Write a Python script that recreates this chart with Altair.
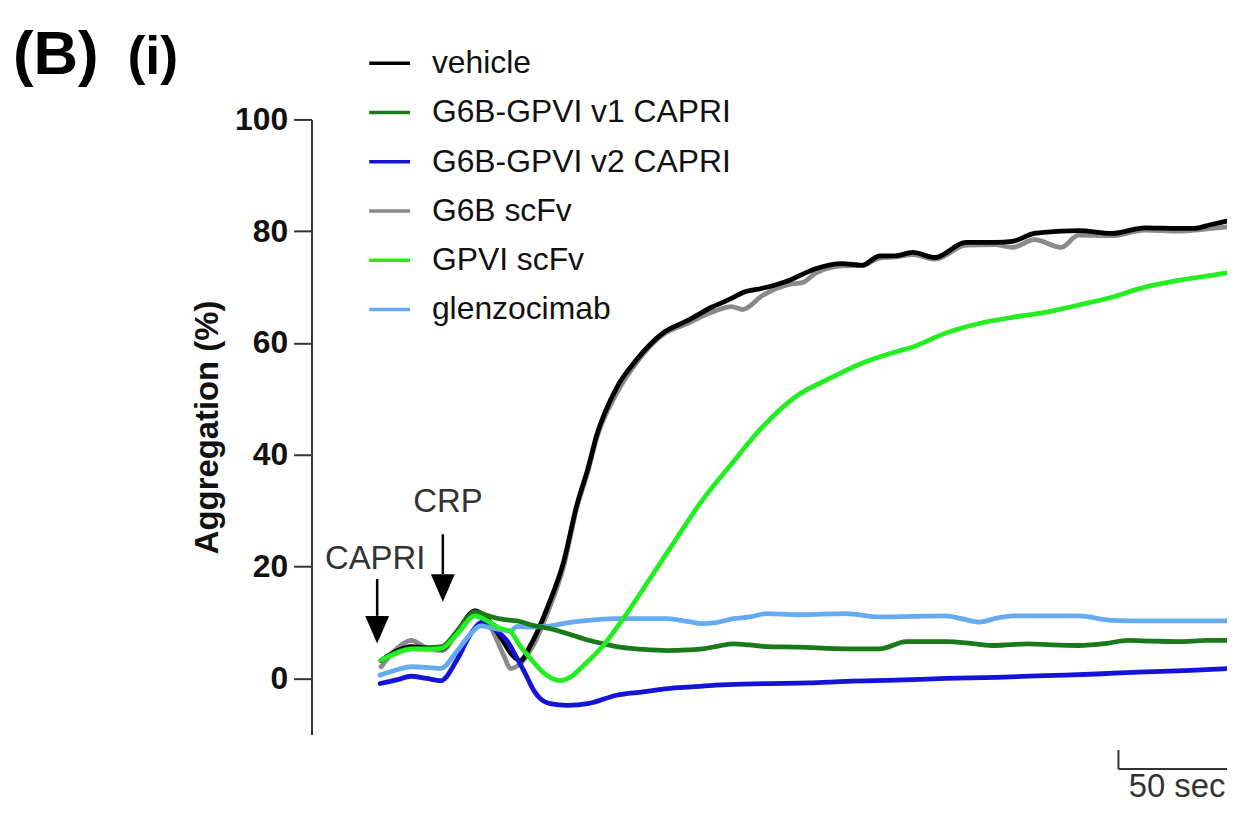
import altair as alt
import pandas as pd

FONT = "Liberation Sans"

series_names = ["vehicle", "G6B-GPVI v1 CAPRI", "G6B-GPVI v2 CAPRI", "G6B scFv", "GPVI scFv", "glenzocimab"]
series_colors = ["#000000", "#1a7a1a", "#1414d8", "#8a8a8a", "#22ee22", "#66aaf0"]
draw_order = ["G6B scFv", "vehicle", "G6B-GPVI v2 CAPRI", "glenzocimab", "G6B-GPVI v1 CAPRI", "GPVI scFv"]

# time (s) / aggregation (%)
t_vehicle = [31.5, 39, 45, 52, 59, 66, 74, 80, 86, 91, 94.5, 99, 107, 114, 120, 125, 129, 138, 147, 159,
             170, 181, 190, 195, 204, 216, 228, 240, 249, 257, 264, 272, 282, 296, 309, 317, 327, 339, 347, 362,
             377, 392, 399, 407, 415]
v_vehicle = [3.2, 5.0, 5.7, 5.5, 5.3, 8.5, 12.1, 10.5, 7.1, 4.1, 3.2, 5.9, 13.0, 20.8, 31.0, 37.5, 43.5, 52.0, 57.0, 61.8,
             64.0, 66.4, 68.0, 69.0, 69.8, 71.2, 73.3, 74.2, 73.9, 75.6, 75.6, 76.2, 75.3, 78.0, 78.0, 78.2, 79.6, 80.0, 80.1, 79.6,
             80.6, 80.5, 80.5, 81.2, 81.9]

t_g6b = [31.5, 39, 45, 52, 59, 66, 74, 80, 87, 90, 94, 99, 107, 114, 120, 125, 129, 138, 147, 159,
         170, 181, 190, 195, 204, 216, 222, 228, 240, 249, 257, 264, 272, 282, 296, 309, 317, 327, 339, 347,
         362, 377, 392, 399, 407, 415]
v_g6b = [2.1, 5.5, 6.8, 5.5, 5.0, 8.2, 12.1, 10.0, 4.1, 1.8, 2.5, 5.0, 12.0, 20.0, 30.5, 37.0, 43.0, 51.0, 56.5, 61.5,
         63.5, 65.5, 66.5, 66.0, 68.5, 70.5, 70.8, 72.5, 73.8, 73.9, 75.2, 75.4, 75.8, 75.0, 77.5, 77.6, 77.1, 78.5, 77.1, 79.3,
         79.2, 80.2, 80.0, 80.2, 80.5, 80.8]

t_gpvi = [31.5, 39, 45, 52, 59, 66, 74, 80, 85, 90, 94, 99, 105, 112.5, 118, 123, 132, 141, 153, 165,
          177, 189, 204, 219, 234, 249, 264, 272, 287, 302, 317, 332, 347, 362, 377, 392, 407, 415]
v_gpvi = [3.3, 4.6, 5.3, 5.2, 5.4, 8.0, 11.2, 10.2, 9.0, 8.4, 6.0, 3.6, 1.0, -0.4, 0.5, 2.3, 5.9, 10.7, 17.8, 25.0,
          32.0, 37.9, 45.0, 50.4, 53.6, 56.4, 58.4, 59.3, 61.8, 63.5, 64.6, 65.5, 66.8, 68.2, 70.0, 71.2, 72.1, 72.6]

t_v1 = [31.5, 39, 45, 52, 59, 66, 74, 80, 86, 93, 100, 108, 116, 123, 131, 138, 150, 161, 170, 177,
        184, 191, 198, 206, 220, 242, 257, 269, 280, 287, 300, 309, 324, 335, 347, 360, 369, 380, 392, 405, 415]
v_v1 = [3.2, 4.8, 5.3, 5.5, 5.7, 8.5, 11.9, 11.2, 10.6, 10.3, 9.5, 8.9, 8.0, 7.1, 6.3, 5.7, 5.2, 5.0, 5.1, 5.3,
        5.8, 6.2, 6.0, 5.7, 5.6, 5.3, 5.3, 6.6, 6.6, 6.6, 6.2, 5.9, 6.2, 6.0, 5.9, 6.3, 6.8, 6.7, 6.6, 6.8, 6.8]

t_v2 = [31, 39, 45, 52, 58.5, 66, 72, 77.4, 82, 88.7, 93, 96.3, 100.8, 103.5, 108, 115.7, 125, 138, 150, 161,
        172, 183, 195, 206, 225, 242, 264, 287, 310, 332, 355, 377, 400, 415]
v_v2 = [-0.9, -0.2, 0.4, 0.0, -0.4, 3.5, 8.0, 10.1, 9.0, 6.6, 3.6, 1.2, -2.3, -3.6, -4.5, -4.8, -4.5, -3.0, -2.4, -1.8,
        -1.5, -1.2, -1.0, -0.9, -0.8, -0.5, -0.3, 0.0, 0.2, 0.5, 0.8, 1.2, 1.5, 1.8]

t_glen = [31, 39, 45, 52, 58.5, 66, 72, 76.5, 82, 90, 93, 100, 108, 115, 123, 132, 138, 150, 160.7, 170,
          177, 183, 191, 198, 206, 220, 242, 257, 272, 287, 295, 302, 310, 317, 332, 347, 362, 377, 392, 415]
v_glen = [0.6, 1.6, 2.1, 2.0, 1.8, 5.0, 8.0, 9.4, 9.0, 8.5, 9.3, 9.2, 9.4, 9.9, 10.3, 10.6, 10.7, 10.7, 10.7, 10.2,
          9.8, 10.0, 10.7, 11.0, 11.6, 11.4, 11.6, 11.0, 11.1, 11.2, 10.6, 10.1, 10.8, 11.2, 11.2, 11.2, 10.4, 10.3, 10.3, 10.3]

# annotations (data coordinates)
ann_labels = ["CAPRI", "CRP"]
ann_label_t = [28.8, 61.7]
ann_label_y = [19.6, 29.7]
arrow_t = [29.7, 59.4]
arrow_top = [17.8, 25.8]
arrow_bottom = [11.2, 18.7]
arrow_head = [8.7, 16.2]

scalebar_label = ["50 sec"]
scalebar_t = [365]
scalebar_t2 = [415]
scalebar_y = [-16.2]
scalebar_ytop = [-12.8]
scalebar_label_t = [391.5]
scalebar_label_y = [-21.2]

panel_labels = ["(B)", "(i)"]

series_data = {
    "vehicle": (t_vehicle, v_vehicle),
    "G6B-GPVI v1 CAPRI": (t_v1, v_v1),
    "G6B-GPVI v2 CAPRI": (t_v2, v_v2),
    "G6B scFv": (t_g6b, v_g6b),
    "GPVI scFv": (t_gpvi, v_gpvi),
    "glenzocimab": (t_glen, v_glen),
}

rows = []
for name in series_names:
    ts, vs = series_data[name]
    for t, v in zip(ts, vs):
        rows.append({"series": name, "time": t, "agg": v})
df = pd.DataFrame(rows)

X_DOMAIN = [0, 414.1]
Y_DOMAIN = [-10, 100]

xscale = alt.Scale(domain=X_DOMAIN, nice=False, zero=False)
yscale = alt.Scale(domain=Y_DOMAIN, nice=False, zero=False)
yaxis = alt.Axis(values=[0, 20, 40, 60, 80, 100], title="Aggregation (%)", titleFont=FONT, titleFontSize=33,
                 titleFontWeight="bold", titleColor="#111", titlePadding=10, labelFont=FONT, labelFontSize=32,
                 labelFontWeight="bold", labelColor="#111", labelPadding=6, tickSize=18, tickWidth=2,
                 tickColor="#333", domainWidth=2, domainColor="#333", grid=False, labelFlush=False,
                 labelOverlap=False)


def X(f):
    return alt.X(f"{f}:Q", scale=xscale, axis=None)


def Y(f):
    return alt.Y(f"{f}:Q", scale=yscale, axis=yaxis)


color = alt.Color("series:N", scale=alt.Scale(domain=series_names, range=series_colors),
                  legend=alt.Legend(title=None, orient="none", legendX=56, legendY=-79, symbolType="stroke",
                                    symbolSize=1681, symbolStrokeWidth=3.5, labelFont=FONT, labelFontSize=32,
                                    labelColor="#111", labelOffset=20, rowPadding=10.5, padding=0, labelLimit=600,
                                    direction="vertical"))

base = alt.Chart(df)
line_layers = [
    base.transform_filter(alt.datum.series == name)
    .mark_line(strokeWidth=4.8, strokeJoin="round", strokeCap="round", clip=True, interpolate="monotone")
    .encode(x=X("time"), y=Y("agg"), color=color, order=alt.Order("time:Q"))
    for name in draw_order
]

ann_df = pd.DataFrame({"label": ann_labels, "lt": ann_label_t, "ly": ann_label_y,
                       "at": arrow_t, "atop": arrow_top, "abot": arrow_bottom, "ahead": arrow_head})
ann_base = alt.Chart(ann_df)
ann_text = ann_base.mark_text(font=FONT, fontSize=33, color="#333", align="center", baseline="alphabetic").encode(
    x=X("lt"), y=Y("ly"), text="label:N")
arrow_shaft = ann_base.mark_rule(color="#000", strokeWidth=2.5).encode(
    x=X("at"), y=Y("atop"), y2=alt.Y2("abot:Q"))
arrow_heads = ann_base.mark_point(shape="M-1,-1.15L1,-1.15L0,1.15Z", size=576, filled=True, color="#000",
                                  opacity=1, strokeWidth=0).encode(x=X("at"), y=Y("ahead"))

sb_df = pd.DataFrame({"label": scalebar_label, "t": scalebar_t, "t2": scalebar_t2, "y": scalebar_y,
                      "ytop": scalebar_ytop, "lt": scalebar_label_t, "ly": scalebar_label_y})
sb_base = alt.Chart(sb_df)
sb_h = sb_base.mark_rule(color="#333", strokeWidth=2).encode(x=X("t"), x2=alt.X2("t2:Q"), y=Y("y"))
sb_v = sb_base.mark_rule(color="#333", strokeWidth=2).encode(x=X("t"), y=Y("ytop"), y2=alt.Y2("y:Q"))
sb_text = sb_base.mark_text(font=FONT, fontSize=33, color="#333", align="center", baseline="alphabetic").encode(
    x=X("lt"), y=Y("ly"), text="label:N")

pl_df = pd.DataFrame({"label": panel_labels})
panel_B = alt.Chart(pl_df).transform_filter(alt.datum.label == "(B)").mark_text(
    font=FONT, fontSize=62, fontWeight="bold", color="#000", align="left", baseline="alphabetic").encode(
    text="label:N", x=alt.value(-300), y=alt.value(-46))
panel_i = alt.Chart(pl_df).transform_filter(alt.datum.label == "(i)").mark_text(
    font=FONT, fontSize=54, fontWeight="bold", color="#000", align="left", baseline="alphabetic").encode(
    text="label:N", x=alt.value(-185), y=alt.value(-46))

chart = alt.layer(*line_layers, arrow_shaft, arrow_heads, ann_text, sb_h, sb_v, sb_text, panel_B, panel_i).properties(
    width=920, height=618,
    autosize=alt.AutoSizeParams(type="none"),
    padding={"left": 305, "top": 110, "right": 0, "bottom": 70},
    background="white",
).configure_view(stroke=None)

chart.save("out.html", embed_options={"renderer": "svg", "actions": False})
